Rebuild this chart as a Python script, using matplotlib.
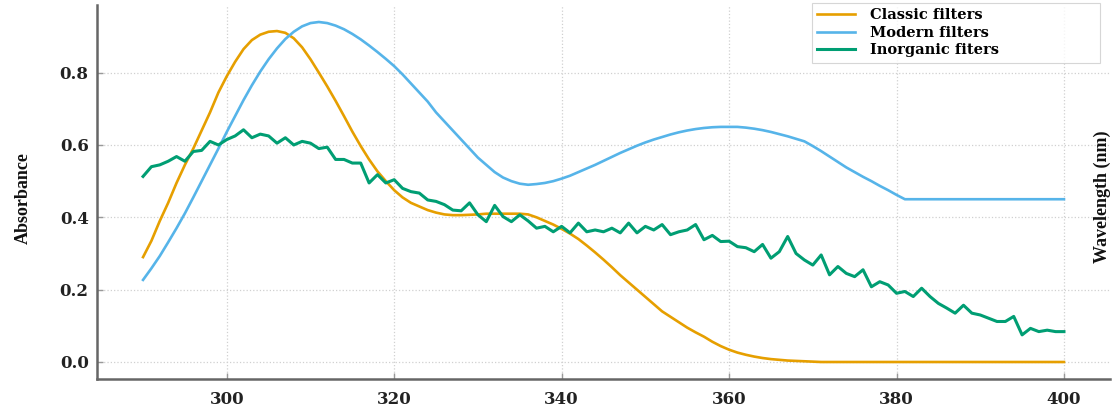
import matplotlib
matplotlib.use("Agg")
import matplotlib.pyplot as plt
import numpy as np

# ---------------- data ----------------
wavelength = list(range(290, 401))

classic = [
    0.29, 0.335, 0.39, 0.44, 0.495, 0.545, 0.59, 0.64, 0.69, 0.745,   # 290-299
    0.79, 0.83, 0.865, 0.89, 0.905, 0.913, 0.915, 0.91, 0.895, 0.87,  # 300-309
    0.837, 0.80, 0.762, 0.722, 0.68, 0.637, 0.597, 0.56, 0.527, 0.50, # 310-319
    0.475, 0.455, 0.44, 0.43, 0.42, 0.413, 0.408, 0.406, 0.406, 0.407, # 320-329
    0.408, 0.41, 0.41, 0.41, 0.41, 0.41, 0.408, 0.40, 0.39, 0.38,      # 330-339
    0.368, 0.355, 0.34, 0.322, 0.303, 0.283, 0.262, 0.24, 0.22, 0.20,  # 340-349
    0.18, 0.16, 0.14, 0.125, 0.11, 0.095, 0.082, 0.07, 0.056, 0.044,   # 350-359
    0.034, 0.026, 0.02, 0.015, 0.011, 0.008, 0.006, 0.004, 0.003, 0.002, # 360-369
    0.001, 0.0, 0.0, 0.0, 0.0, 0.0, 0.0, 0.0, 0.0, 0.0,                # 370-379
    0.0, 0.0, 0.0, 0.0, 0.0, 0.0, 0.0, 0.0, 0.0, 0.0,                  # 380-389
    0.0, 0.0, 0.0, 0.0, 0.0, 0.0, 0.0, 0.0, 0.0, 0.0,                  # 390-399
    0.0,                                                               # 400
]

modern = [
    0.227, 0.259, 0.293, 0.331, 0.37, 0.411, 0.455, 0.50, 0.545, 0.59,  # 290-299
    0.636, 0.68, 0.724, 0.765, 0.803, 0.837, 0.867, 0.893, 0.913, 0.928, # 300-309
    0.937, 0.94, 0.937, 0.93, 0.92, 0.907, 0.892, 0.875, 0.857, 0.838,   # 310-319
    0.818, 0.795, 0.77, 0.745, 0.72, 0.69, 0.665, 0.64, 0.615, 0.59,     # 320-329
    0.565, 0.545, 0.525, 0.51, 0.50, 0.493, 0.49, 0.492, 0.495, 0.50,    # 330-339
    0.507, 0.515, 0.525, 0.535, 0.545, 0.556, 0.567, 0.578, 0.588, 0.598, # 340-349
    0.607, 0.615, 0.622, 0.629, 0.635, 0.64, 0.644, 0.647, 0.649, 0.65,  # 350-359
    0.65, 0.65, 0.648, 0.645, 0.641, 0.636, 0.63, 0.624, 0.617, 0.61,    # 360-369
    0.597, 0.583, 0.568, 0.553, 0.538, 0.525, 0.512, 0.50, 0.487, 0.475, # 370-379
    0.462, 0.45, 0.45, 0.45, 0.45, 0.45, 0.45, 0.45, 0.45, 0.45,         # 380-389
    0.45, 0.45, 0.45, 0.45, 0.45, 0.45, 0.45, 0.45, 0.45, 0.45,          # 390-399
    0.45,                                                                # 400
]

inorganic = [
    0.513, 0.54, 0.545, 0.555, 0.568, 0.555, 0.582, 0.585, 0.61, 0.60,   # 290-299
    0.615, 0.625, 0.642, 0.62, 0.63, 0.625, 0.605, 0.62, 0.60, 0.61,     # 300-309
    0.605, 0.59, 0.594, 0.56, 0.56, 0.55, 0.55, 0.495, 0.518, 0.495,     # 310-319
    0.504, 0.48, 0.471, 0.467, 0.448, 0.444, 0.435, 0.42, 0.418, 0.44,   # 320-329
    0.407, 0.388, 0.433, 0.402, 0.388, 0.407, 0.39, 0.37, 0.375, 0.36,   # 330-339
    0.375, 0.357, 0.384, 0.36, 0.365, 0.36, 0.37, 0.357, 0.384, 0.357,   # 340-349
    0.375, 0.365, 0.38, 0.352, 0.36, 0.365, 0.38, 0.338, 0.35, 0.333,    # 350-359
    0.334, 0.319, 0.316, 0.305, 0.325, 0.287, 0.305, 0.347, 0.30, 0.282, # 360-369
    0.268, 0.296, 0.241, 0.264, 0.245, 0.236, 0.255, 0.208, 0.222, 0.213, # 370-379
    0.19, 0.195, 0.181, 0.204, 0.181, 0.162, 0.149, 0.135, 0.157, 0.135, # 380-389
    0.13, 0.121, 0.112, 0.112, 0.126, 0.075, 0.093, 0.084, 0.088, 0.084, # 390-399
    0.084,                                                               # 400
]

series_labels = ["Classic filters", "Modern filters", "Inorganic fiters"]
series_colors = ["#E69F00", "#56B4E9", "#009E73"]
series_widths = [1.9, 1.9, 2.2]
x_ticks = [300, 320, 340, 360, 380, 400]
y_ticks = [0.0, 0.2, 0.4, 0.6, 0.8]

# ---------------- figure ----------------
W, H = 1115, 409
fig = plt.figure(figsize=(W / 100, H / 100), dpi=100)
ax = fig.add_axes([97 / W, 1 - 379 / H, (1110 - 97) / W, (379 - 5) / H])

for vals, lab, col, lw in zip([classic, modern, inorganic], series_labels,
                              series_colors, series_widths):
    ax.plot(wavelength, vals, color=col, lw=lw, label=lab)

ax.set_xticks(x_ticks)
ax.set_yticks(y_ticks)
ax.set_yticklabels([f"{v:.1f}" for v in y_ticks])

for lab in ax.get_xticklabels() + ax.get_yticklabels():
    lab.set_fontfamily("DejaVu Serif")
    lab.set_fontweight("bold")
    lab.set_fontsize(12)
    lab.set_color("#222222")

ax.tick_params(axis="both", direction="in", length=4, width=1, color="#999999")
ax.tick_params(axis="x", pad=9)
ax.tick_params(axis="y", pad=6)

ax.grid(True, color="#d0d0d0", linestyle=":", linewidth=0.9)
ax.set_axisbelow(True)

for s in ["top", "right"]:
    ax.spines[s].set_visible(False)
for s in ["left", "bottom"]:
    ax.spines[s].set_color("#666666")
    ax.spines[s].set_linewidth(1.8)

leg = ax.legend(
    loc="upper left",
    bbox_to_anchor=(812 / W, 1 - 3 / H, (1100 - 812) / W, 0.0),
    bbox_transform=fig.transFigure,
    mode="expand",
    prop=dict(family="DejaVu Serif", weight="bold", size=10.5),
    frameon=True, fancybox=False, edgecolor="#cccccc",
    handlelength=2.6, handletextpad=1.0, labelspacing=0.25,
    borderpad=0.35, borderaxespad=0.0,
)
leg.get_frame().set_linewidth(0.8)

fig.text(23 / W, 1 - 198 / H, "Absorbance", rotation=90, ha="center", va="center",
         family="Liberation Serif", weight="bold", size=13, color="#111111")
fig.text(1102 / W, 1 - 197 / H, "Wavelength (nm)", rotation=90, ha="center", va="center",
         family="Liberation Serif", weight="bold", size=13, color="#111111")

fig.savefig("out.png", dpi=100)
